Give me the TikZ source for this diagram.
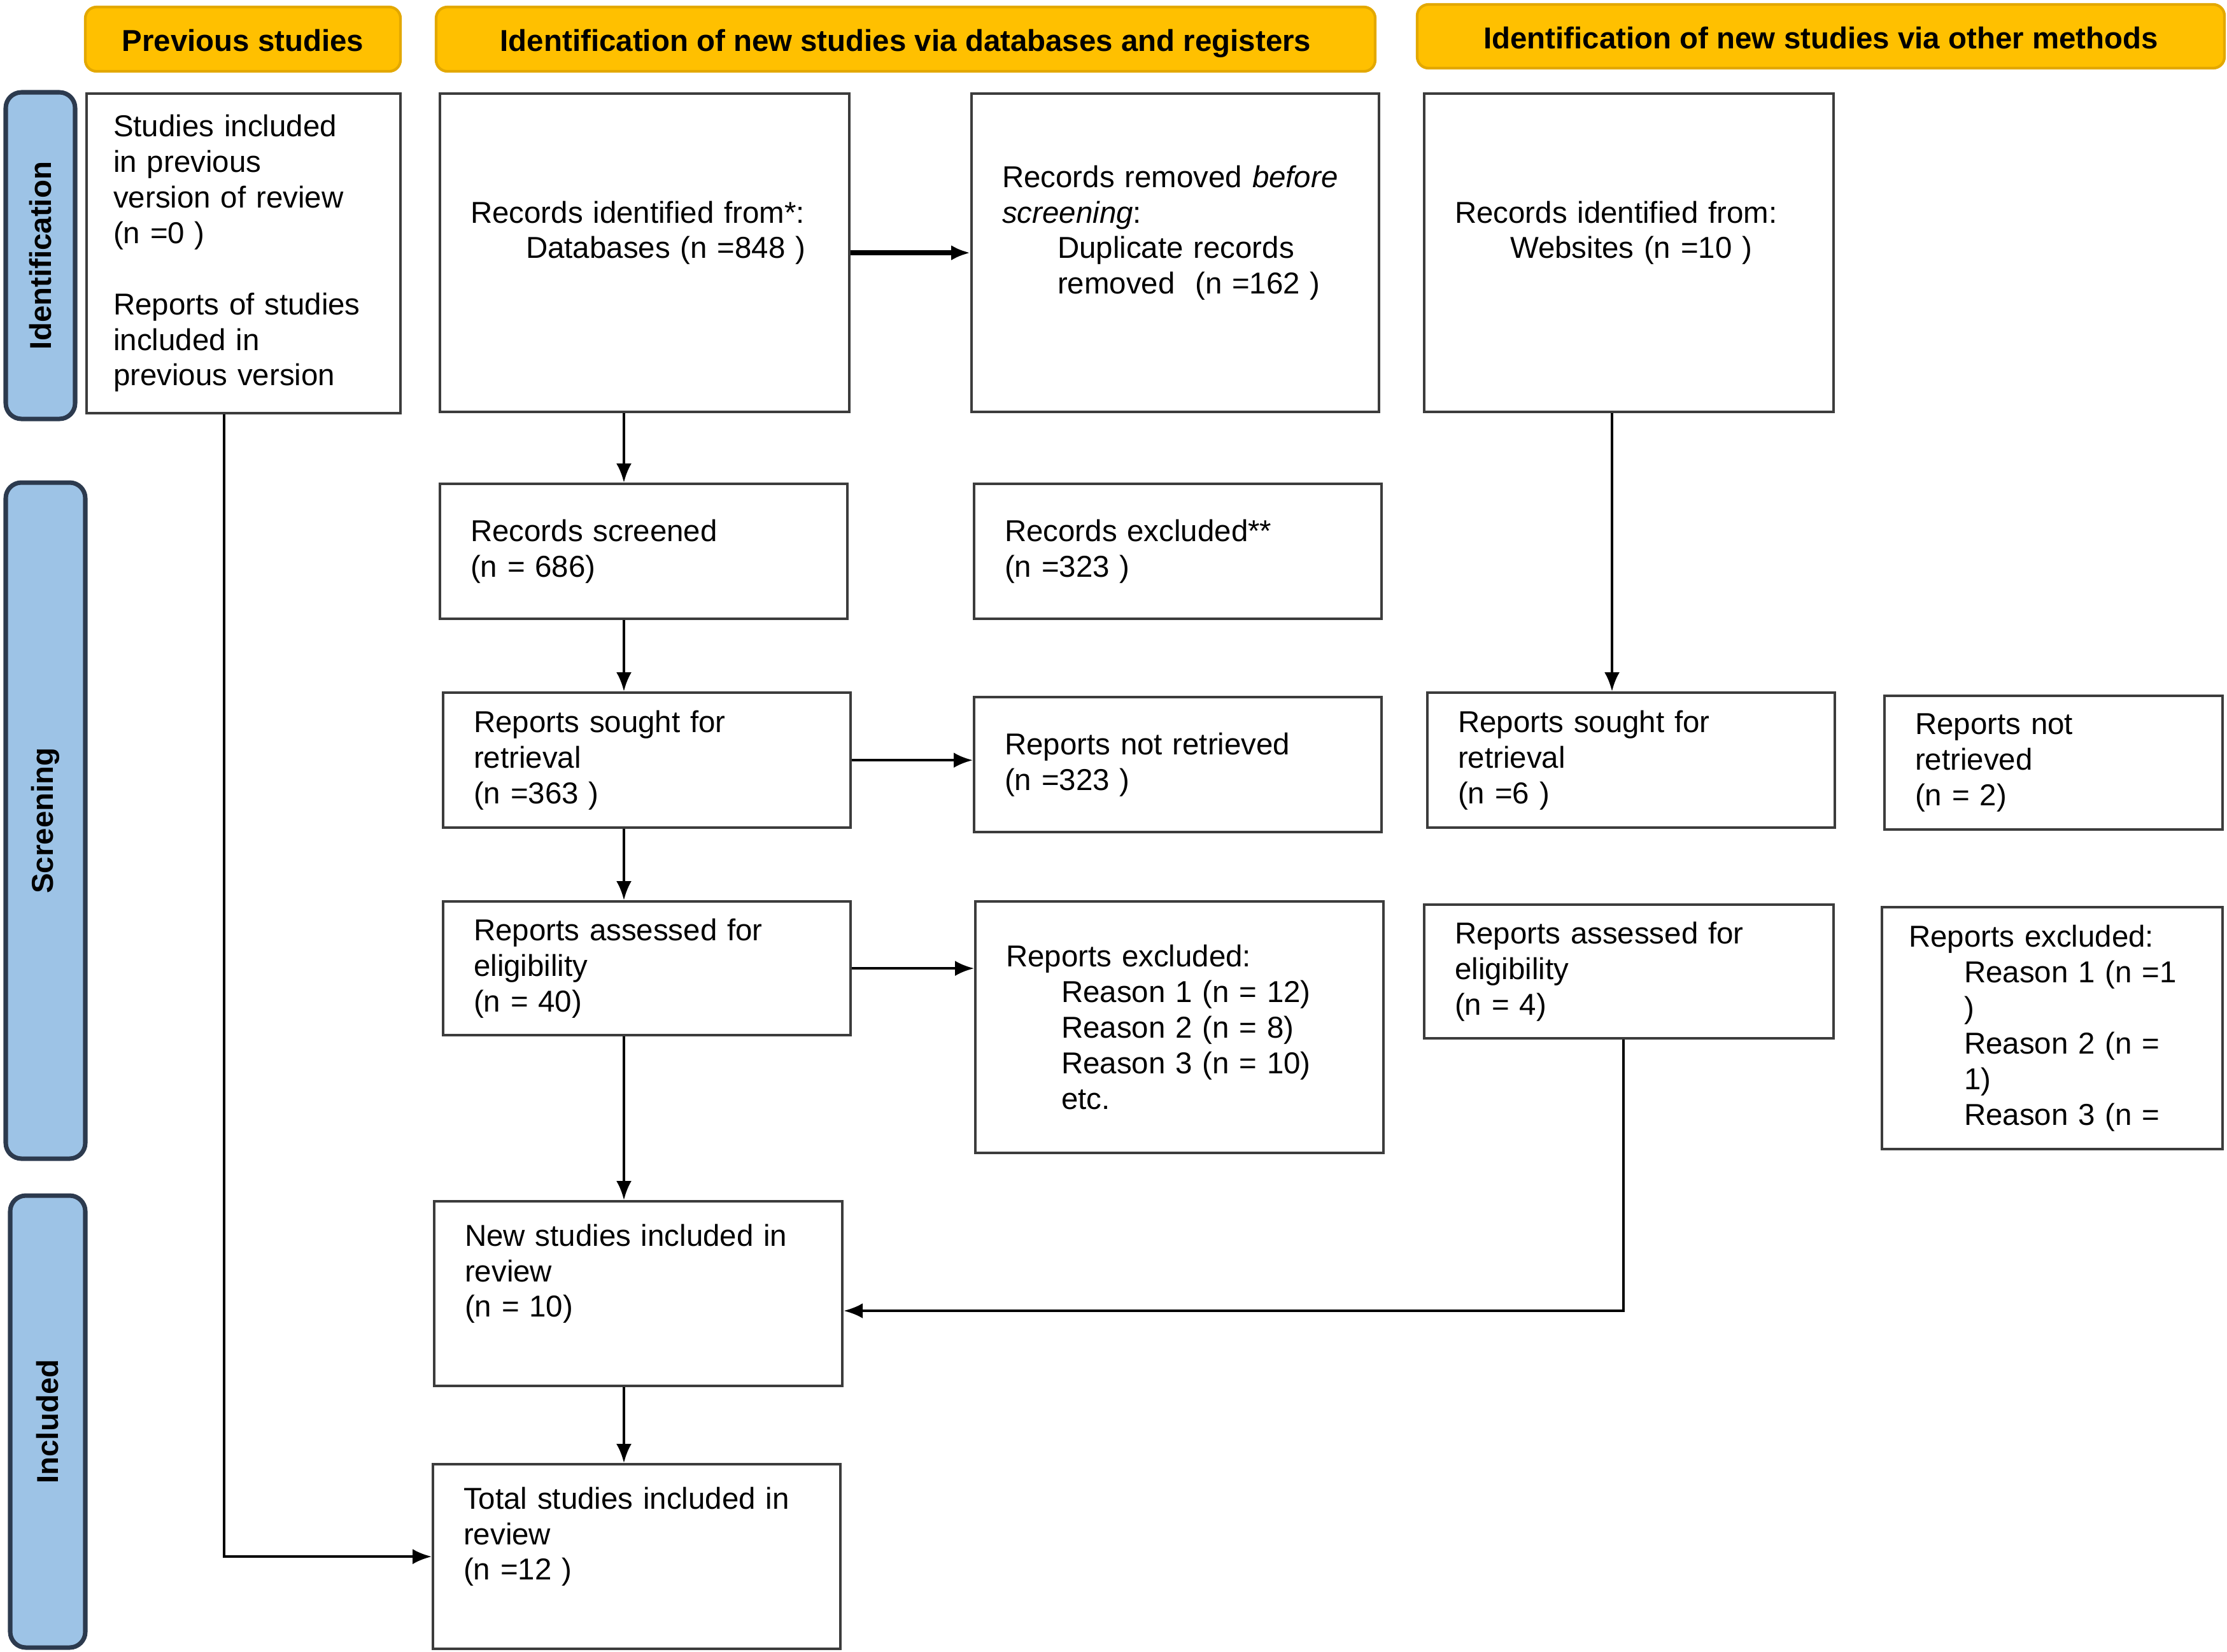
\documentclass[tikz,border=0pt]{standalone}
\usepackage{fontspec}
\setmainfont{Liberation Sans}
\usepackage{tikz}
\usetikzlibrary{positioning, calc, arrows.meta}

\definecolor{headgold}{HTML}{FFC000}
\definecolor{headedge}{HTML}{E3A800}
\definecolor{sideblue}{HTML}{9DC3E6}
\definecolor{sideedge}{HTML}{2C3A4E}
\definecolor{boxedge}{HTML}{3C3C3C}

\begin{document}
\begin{tikzpicture}[
    font=\fontsize{13.5}{15.9}\selectfont,
    headbox/.style={draw=headedge, line width=1.2pt, fill=headgold, rounded corners=5pt, align=center, text height=0.48cm, text depth=0.1cm, font=\fontsize{13.5}{15.9}\selectfont\bfseries},
    sidebox/.style={draw=sideedge, line width=2pt, fill=sideblue, rounded corners=7pt, rotate=90, align=center, font=\fontsize{13.5}{15.9}\selectfont\bfseries},
    flowbox/.style={draw=boxedge, line width=1.2pt, fill=white, rectangle, anchor=north west, align=left, inner xsep=0.48cm, inner ysep=0pt},
    arrow/.style={-{Latex[length=0.3cm,width=0.24cm]}, line width=1.2pt, black}
]
    \useasboundingbox (0,0) rectangle (34.98,-25.94);

    % --- Column headers ---
    \node[headbox, minimum width=4.95cm, minimum height=1.01cm] (hprev) at (3.815,-0.615) {Previous studies};
    \node[headbox, minimum width=14.75cm, minimum height=1.01cm] (hdb) at (14.225,-0.615) {Identification of new studies via databases and registers};
    \node[headbox, minimum width=12.68cm, minimum height=1.0cm] (hother) at (28.60,-0.57) {Identification of new studies via other methods};

    % --- Stage labels ---
    \node[sidebox, minimum width=5.13cm, minimum height=1.09cm] (sident) at (0.635,-4.015) {Identification};
    \node[sidebox, minimum width=10.62cm, minimum height=1.25cm] (sscreen) at (0.715,-12.89) {Screening};
    \node[sidebox, minimum width=7.10cm, minimum height=1.18cm] (sincl) at (0.75,-22.33) {Included};

    % --- Previous studies ---
    \node[flowbox, inner xsep=0.42cm, text width=4.09cm, minimum height=5.02cm] (prev) at (1.34,-1.45)
        {Studies included\\in previous\\version of review\\(n =0 )\\[15.9pt]Reports of studies\\included in\\previous version};

    % --- Databases and registers ---
    \node[flowbox, text width=5.47cm, minimum height=5.00cm] (recid) at (6.89,-1.45)
        {Records identified from*:\\\hspace*{0.87cm}Databases (n =848 )\\\strut};
    \node[flowbox, text width=5.44cm, minimum height=5.00cm] (removed) at (15.24,-1.45)
        {Records removed \textit{before}\\\textit{screening}:\\\hspace*{0.87cm}Duplicate records\\\hspace*{0.87cm}removed\ \ (n =162 )\\\strut};
    \node[flowbox, text width=5.44cm, minimum height=2.12cm] (screened) at (6.89,-7.58)
        {Records screened\\(n = 686)};
    \node[flowbox, text width=5.44cm, minimum height=2.12cm] (excluded) at (15.28,-7.58)
        {Records excluded**\\(n =323 )};
    \node[flowbox, text width=5.44cm, minimum height=2.12cm] (sought) at (6.94,-10.86)
        {Reports sought for\\retrieval\\(n =363 )};
    \node[flowbox, text width=5.44cm, minimum height=2.12cm] (notret) at (15.28,-10.93)
        {Reports not retrieved\\(n =323 )};
    \node[flowbox, text width=5.44cm, minimum height=2.10cm] (assessed) at (6.94,-14.14)
        {Reports assessed for\\eligibility\\(n = 40)};
    \node[flowbox, text width=5.45cm, minimum height=3.95cm] (excl) at (15.30,-14.14)
        {Reports excluded:\\\hspace*{0.87cm}Reason 1 (n = 12)\\\hspace*{0.87cm}Reason 2 (n = 8)\\\hspace*{0.87cm}Reason 3 (n = 10)\\\hspace*{0.87cm}etc.};
    \node[flowbox, text width=5.45cm, minimum height=2.90cm] (newinc) at (6.80,-18.85)
        {New studies included in\\review\\(n = 10)\\\strut};
    \node[flowbox, text width=5.44cm, minimum height=2.90cm] (total) at (6.78,-22.98)
        {Total studies included in\\review\\(n =12 )\\\strut};

    % --- Other methods ---
    \node[flowbox, text width=5.47cm, minimum height=5.00cm] (web) at (22.35,-1.45)
        {Records identified from:\\\hspace*{0.87cm}Websites (n =10 )\\\strut};
    \node[flowbox, text width=5.44cm, minimum height=2.12cm] (sought2) at (22.40,-10.86)
        {Reports sought for\\retrieval\\(n =6 )};
    \node[flowbox, text width=4.35cm, minimum height=2.10cm] (notret2) at (29.58,-10.91)
        {Reports not\\retrieved\\(n = 2)};
    \node[flowbox, text width=5.47cm, minimum height=2.10cm] (assessed2) at (22.35,-14.19)
        {Reports assessed for\\eligibility\\(n = 4)};
    \node[flowbox, inner xsep=0.42cm, text width=4.51cm, minimum height=3.80cm] (excl2) at (29.54,-14.23)
        {Reports excluded:\\\hspace*{0.87cm}Reason 1 (n =1\\\hspace*{0.87cm})\\\hspace*{0.87cm}Reason 2 (n =\\\hspace*{0.87cm}1)\\\hspace*{0.87cm}Reason 3 (n =};

    % --- Connector columns ---
    \coordinate (maincol) at (9.80,0);
    \coordinate (prevcol) at (3.52,0);
    \coordinate (webcol) at (25.32,0);
    \coordinate (othcol) at (25.50,0);
    \coordinate (joinrow) at (0,-20.59);

    % Main flow
    \draw[arrow, line width=2.2pt] (recid) -- (removed);
    \draw[arrow] (recid.south -| maincol) -- (screened.north -| maincol);
    \draw[arrow] (screened.south -| maincol) -- (sought.north -| maincol);
    \draw[arrow] (sought.east) -- (notret.west |- sought.east);
    \draw[arrow] (sought.south -| maincol) -- (assessed.north -| maincol);
    \draw[arrow] (assessed.east) -- (excl.west |- assessed.east);
    \draw[arrow] (assessed.south -| maincol) -- (newinc.north -| maincol);
    \draw[arrow] (newinc.south -| maincol) -- (total.north -| maincol);

    % Other methods and previous studies
    \draw[arrow] (web.south -| webcol) -- (sought2.north -| webcol);
    \draw[arrow] (assessed2.south -| othcol) |- (newinc.east |- joinrow);
    \draw[arrow] (prev.south -| prevcol) |- (total.west);

\end{tikzpicture}
\end{document}
